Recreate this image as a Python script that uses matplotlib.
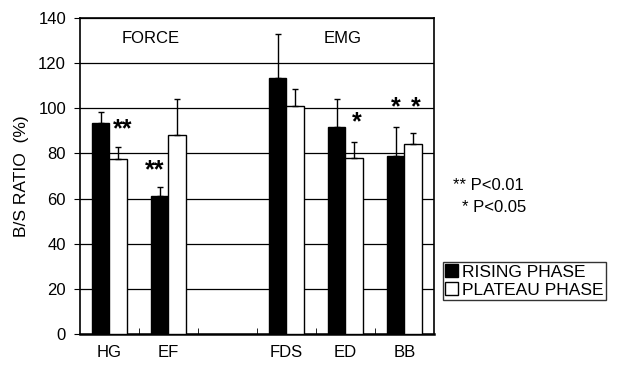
import matplotlib.pyplot as plt
import numpy as np

plt.rcParams['font.family'] = ['Liberation Sans', 'DejaVu Sans']

muscles = ['HG', 'EF', '', 'FDS', 'ED', 'BB']
rising = [93.5, 61, np.nan, 113.5, 91.5, 79]
rising_err = [5, 4, 0, 19.5, 12.5, 12.5]
plateau = [77.5, 88, np.nan, 101, 78, 84]
plateau_err = [5.5, 16, 0, 7.5, 7, 5]

fig = plt.figure(figsize=(6.22, 3.71), dpi=100)
ax = fig.add_axes([0.1286, 0.0997, 0.5691, 0.8518])

x = np.arange(len(muscles))
w = 0.3
ax.bar(x - w / 2, rising, w, color='black', edgecolor='black', lw=1,
       yerr=[np.zeros(6), rising_err], capsize=2.5,
       error_kw=dict(ecolor='black', elinewidth=1, capthick=1), zorder=3)
ax.bar(x + w / 2, plateau, w, color='white', edgecolor='black', lw=1,
       yerr=[np.zeros(6), plateau_err], capsize=2.5,
       error_kw=dict(ecolor='black', elinewidth=1, capthick=1), zorder=3)

ax.set_xlim(-0.5, 5.5)
ax.set_ylim(0, 140)
ax.set_yticks(range(0, 141, 20))
ax.yaxis.grid(True, color='black', lw=0.9)
ax.set_axisbelow(True)
ax.set_xticks(x)
ax.set_xticklabels(muscles, fontsize=12)
ax.set_xticks(np.arange(0.5, 5, 1), minor=True)
ax.tick_params(axis='x', which='major', length=0, pad=8)
ax.tick_params(axis='x', which='minor', length=4, direction='in')
ax.tick_params(axis='y', labelsize=12, direction='out', length=4, pad=6)
ax.set_ylabel('B/S RATIO  (%)', fontsize=12.5)
ax.yaxis.set_label_coords(-0.145, 0.5)
for s in ax.spines.values():
    s.set_linewidth(1.2)
ax.spines['bottom'].set_linewidth(1.8)

ax.text(0.7, 131, 'FORCE', ha='center', va='center', fontsize=12)
ax.text(3.95, 131, 'EMG', ha='center', va='center', fontsize=12)

# significance marks
star = dict(ha='center', va='center', fontsize=18, fontweight='bold')
ax.text(0.22, 90.5, '**', **star)
ax.text(0.77, 72.5, '**', **star)
ax.text(4.19, 94, '*', **star)
ax.text(4.86, 100.5, '*', **star)
ax.text(5.19, 100.5, '*', **star)

fig.text(0.728, 0.499, '** P<0.01', fontsize=12, va='center')
fig.text(0.742, 0.442, '* P<0.05', fontsize=12, va='center')

leg = fig.legend([plt.Rectangle((0, 0), 1, 1, fc='black', ec='black'),
                  plt.Rectangle((0, 0), 1, 1, fc='white', ec='black')],
                 ['RISING PHASE', 'PLATEAU PHASE'],
                 loc='lower left', bbox_to_anchor=(0.712, 0.191),
                 fontsize=12.5, frameon=True, fancybox=False, edgecolor='black',
                 handlelength=0.75, handleheight=0.75, handletextpad=0.2,
                 borderpad=0.15, labelspacing=0.15, borderaxespad=0)
leg.get_frame().set_linewidth(1)

fig.savefig('out.png', dpi=100)
